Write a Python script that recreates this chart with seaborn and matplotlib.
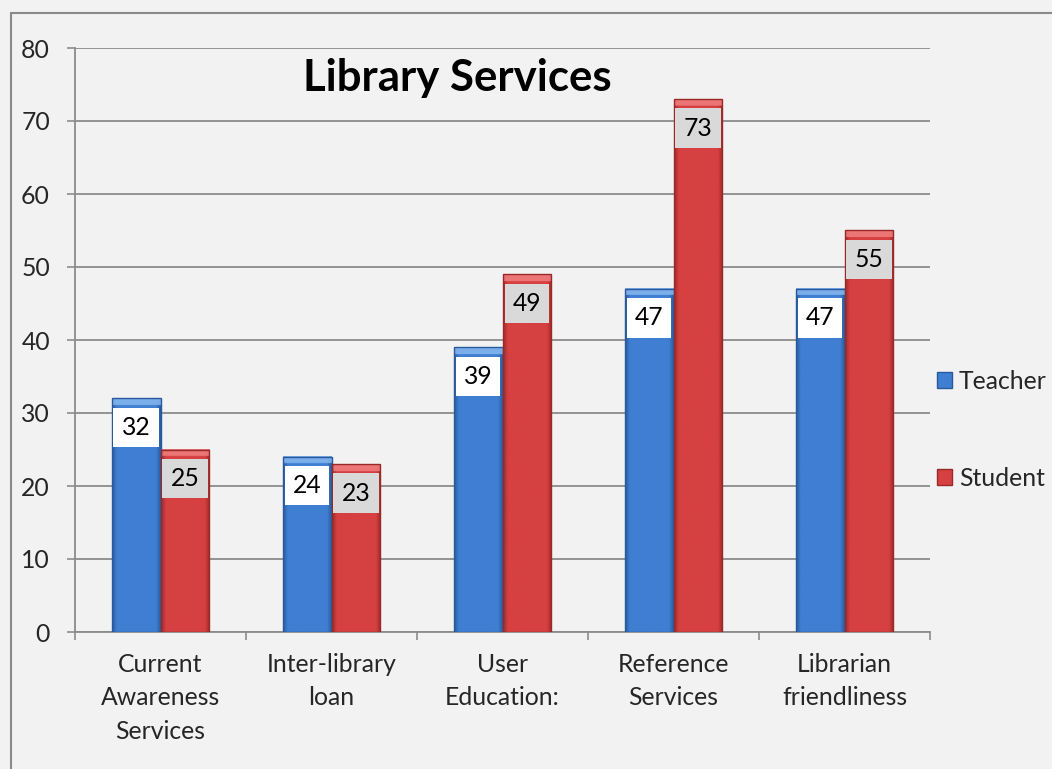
import numpy as np
import pandas as pd
import matplotlib
matplotlib.use("Agg")
import matplotlib.pyplot as plt
import seaborn as sns
from matplotlib.colors import to_rgb
from matplotlib.patches import Rectangle

# ---- data ----
categories = ["Current\nAwareness\nServices", "Inter-library\nloan", "User\nEducation:",
              "Reference\nServices", "Librarian\nfriendliness"]
series = ["Teacher", "Student"]
teacher = [32, 24, 39, 47, 47]
student = [25, 23, 49, 73, 55]
title = "Library Services"
yticks = [0, 10, 20, 30, 40, 50, 60, 70, 80]

df = pd.DataFrame({
    "category": categories * 2,
    "value": teacher + student,
    "series": ["Teacher"] * len(categories) + ["Student"] * len(categories),
})

sns.set_theme(style="white")
plt.rcParams["font.family"] = ["Lato", "DejaVu Sans"]

BG = "#f2f2f2"
GRID = "#8c8c8c"
FS = 17.8
base = {"Teacher": "#3f7fd2", "Student": "#d64040"}
dark = {"Teacher": "#29599a", "Student": "#9a2828"}
light = {"Teacher": "#86b8f0", "Student": "#f08080"}
box = {"Teacher": "white", "Student": "#d9d9d9"}

fig = plt.figure(figsize=(10.52, 7.69), dpi=100, facecolor=BG)
ax = fig.add_axes([75 / 1052, 137 / 769, 855 / 1052, 584 / 769])
ax.set_facecolor(BG)

sns.barplot(data=df, x="category", y="value", hue="series", hue_order=series,
            palette=base, width=0.573, gap=0, saturation=1, legend=False,
            ax=ax, zorder=3)

ax.set_xlim(-0.5, len(categories) - 0.5)
ax.set_ylim(0, 80)

# shading for a bevel-like look
for cont, s, vals in zip(ax.containers, series, [teacher, student]):
    b = np.array(to_rgb(base[s]))
    d = np.array(to_rgb(dark[s]))
    l = np.array(to_rgb(light[s]))
    for bar, v in zip(cont, vals):
        x0, w, h = bar.get_x(), bar.get_width(), bar.get_height()
        nx, ny = 80, 400
        xs = (np.arange(nx) + 0.5) / nx
        ys = (np.arange(ny) + 0.5) / ny * h
        edge = np.clip(np.minimum(xs, 1 - xs) / 0.10, 0, 1)
        col = d[None, :] * (1 - edge[:, None]) + b[None, :] * edge[:, None]
        img = np.repeat(col[None, :, :], ny, axis=0)
        cap = ys > h - 0.95
        img[cap] = l[None, :] * 0.85 + img[cap] * 0.15
        ax.imshow(img, extent=(x0, x0 + w, 0, h), origin="lower", aspect="auto",
                  zorder=3, interpolation="bilinear")
        bar.set_facecolor("none")
        bar.set_edgecolor(d)
        bar.set_linewidth(1.0)
        bar.set_zorder(4)
        ax.annotate(str(v), (x0 + w / 2, h), xytext=(0, -29), textcoords="offset pixels",
                    ha="center", va="center", fontsize=FS, color="black", zorder=6,
                    bbox=dict(boxstyle="square,pad=0.33", fc=box[s], ec="none"))

ax.set_xlim(-0.5, len(categories) - 0.5)
ax.set_ylim(0, 80)
ax.set_yticks(yticks)
ax.yaxis.grid(True, color=GRID, lw=1.3, zorder=0)
ax.xaxis.grid(False)
ax.set_axisbelow(True)
for sp in ["top", "right"]:
    ax.spines[sp].set_visible(False)
for sp in ["left", "bottom"]:
    ax.spines[sp].set_color(GRID)
    ax.spines[sp].set_linewidth(1.3)

ax.set_xlabel("")
ax.set_ylabel("")
ax.tick_params(axis="y", which="major", direction="out", length=6, width=1.2, color=GRID,
               pad=12, labelsize=FS, left=True)
ax.tick_params(axis="x", which="major", length=0, pad=15, labelsize=FS)
ax.set_xticks(np.arange(-0.5, len(categories)), minor=True)
ax.tick_params(axis="x", which="minor", direction="out", length=6, width=1.2, color=GRID,
               bottom=True)
for t in ax.get_xticklabels():
    t.set_linespacing(1.56)
    t.set_ha("center")

ax.text(0.447, 0.949, title, transform=ax.transAxes, ha="center", va="center",
        fontsize=31.5, fontweight="bold", color="black")

handles = [Rectangle((0, 0), 1, 1, fc=base[s], ec=dark[s], lw=1) for s in series]
ax.legend(handles, series, loc="center left", bbox_to_anchor=(1.008, 0.346),
          frameon=False, fontsize=FS, handlelength=0.6, handleheight=0.6,
          handletextpad=0.3, borderaxespad=0, borderpad=0, labelspacing=3.0)

fig.patches.append(Rectangle((11 / 1052, -0.1), 1.2, 1 - 13 / 769 + 0.1,
                             transform=fig.transFigure, fill=False,
                             ec="#8a8a8a", lw=1.5))

fig.savefig("out.png", dpi=100, facecolor=BG)
